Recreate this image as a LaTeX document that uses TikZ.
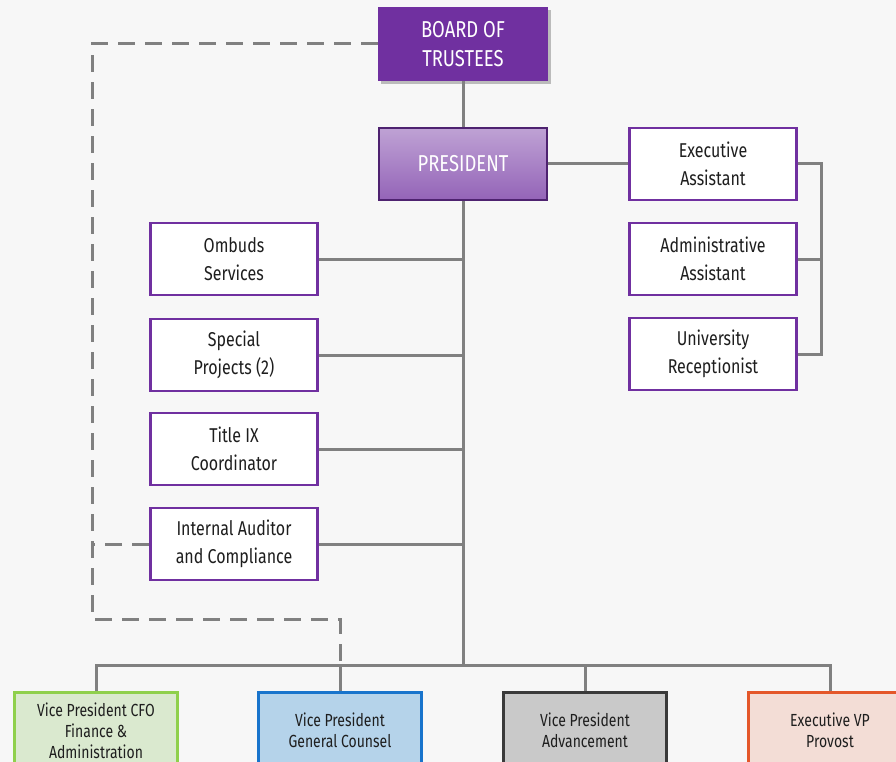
\documentclass[tikz,border=0pt]{standalone}
\usepackage{fontspec}
\setmainfont{Fira Sans}[FakeStretch=0.8]
\usetikzlibrary{shadows}
\definecolor{trustee}{HTML}{7030A0}
\definecolor{wire}{HTML}{808080}
\definecolor{ink}{HTML}{1E1E1E}
\definecolor{cfofill}{HTML}{DAE9CF}
\definecolor{cfoline}{HTML}{8FD04C}
\definecolor{glfill}{HTML}{B5D3EA}
\definecolor{glline}{HTML}{1874CC}
\definecolor{advfill}{HTML}{C9C9C9}
\definecolor{advline}{HTML}{3A3A3A}
\definecolor{provfill}{HTML}{F3DDD6}
\definecolor{provline}{HTML}{E4572A}

\begin{document}
\begin{tikzpicture}[x=1pt,y=-1pt,
  box/.style={draw=trustee, line width=2.8pt, fill=white, text=ink,
    minimum width=167pt, minimum height=72pt, align=center,
    font=\fontsize{20}{28}\selectfont},
  vpbox/.style={line width=2.8pt, text=ink, minimum width=163pt,
    minimum height=76pt, align=center,
    font=\fontsize{17.5}{21}\selectfont},
  wire/.style={draw=wire, line width=3pt},
  dashwire/.style={draw=wire, line width=3pt, dash pattern=on 17pt off 10pt}]
  \fill[gray!6] (0,0) rectangle (896,762);
  \useasboundingbox (0,0) rectangle (896,762);
  \clip (0,0) rectangle (896,762);

  % top
  \node[fill=trustee, text=white, minimum width=170pt, minimum height=74pt,
    align=center, font=\fontsize{23}{29}\selectfont, drop shadow] (board) at (463,44) {BOARD OF\\TRUSTEES};
  \node[draw=trustee!70!black, line width=2pt, top color=trustee!45, bottom color=trustee!75,
    text=white, minimum width=168pt, minimum height=72pt,
    font=\fontsize{23}{29}\selectfont] (pres) at (463,164) {PRESIDENT};

  % staff on the right
  \node[box] (exec) at (713,164) {Executive\\Assistant};
  \node[box] (admin) at (713,259) {Administrative\\Assistant};
  \node[box] (recep) at (713,354) {University\\Receptionist};

  % offices on the left
  \node[box] (ombuds) at (234,259) {Ombuds\\Services};
  \node[box] (special) at (234,355) {Special\\Projects (2)};
  \node[box] (titleix) at (234,449) {Title IX\\Coordinator};
  \node[box] (auditor) at (234,544) {Internal Auditor\\and Compliance};

  % vice presidents
  \node[vpbox, draw=cfoline, fill=cfofill, anchor=north] (cfo) at (96,691) {Vice President CFO\\Finance \&\\Administration};
  \node[vpbox, draw=glline, fill=glfill, anchor=north] (counsel) at (340,691) {Vice President\\General Counsel};
  \node[vpbox, draw=advline, fill=advfill, anchor=north] (advance) at (585,691) {Vice President\\Advancement};
  \node[vpbox, draw=provline, fill=provfill, anchor=north] (provost) at (830,691) {Executive VP\\Provost};

  \coordinate (bus) at (463,665);
  \coordinate (brk) at (821,164);
  \coordinate (dk) at (92,619);

  % solid lines
  \draw[wire] (board) -- (pres);
  \draw[wire] (pres) -- (exec);
  \draw[wire] (pres.south) -- (bus);
  \foreach \n in {ombuds,special,titleix,auditor}
    \draw[wire] (\n.east) -- (\n.east -| bus);
  \draw[wire] (exec.east) -- (brk) |- (recep.east);
  \draw[wire] (admin.east) -- (admin.east -| brk);
  \draw[wire] (cfo.north) |- (bus) -| (provost.north);
  \foreach \n in {counsel,advance}
    \draw[wire] (\n.north) -- (\n.north |- bus);

  % dotted reporting line
  \draw[dashwire] (board.west) -| (dk) -| (counsel.north |- bus);
  \draw[dashwire] (auditor.west) -- (auditor.west -| dk);
\end{tikzpicture}
\end{document}
